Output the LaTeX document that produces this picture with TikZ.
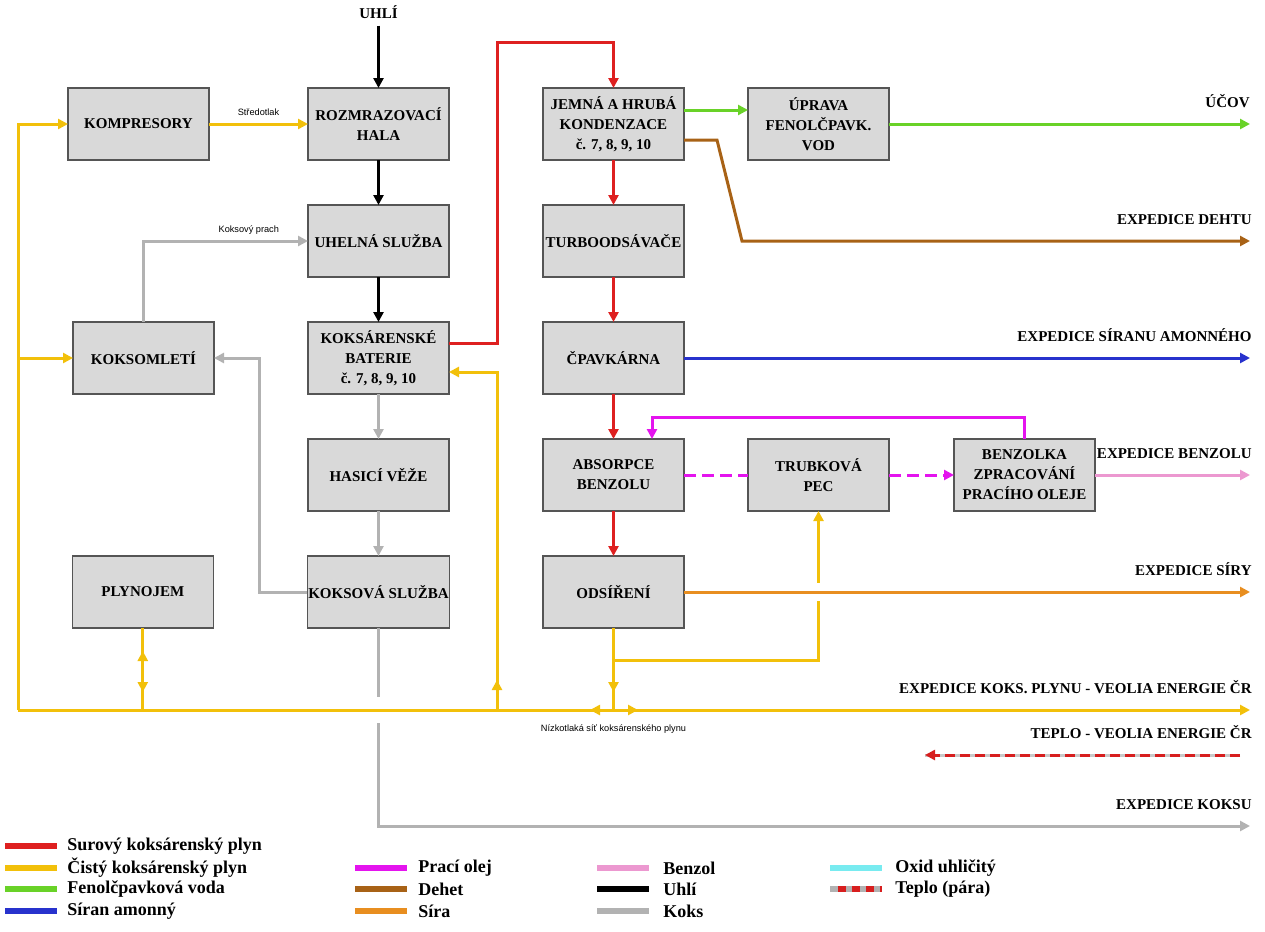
\documentclass[tikz,border=0pt]{standalone}
\usepackage{fontspec}
\setmainfont{Liberation Serif}
\newfontfamily\notefont{Liberation Sans}
\usetikzlibrary{arrows.meta, positioning, calc, decorations.markings}
\definecolor{boxgray}{RGB}{217,217,217}
\definecolor{boxline}{RGB}{85,85,85}
\definecolor{rawgas}{RGB}{222,32,32}
\definecolor{cleangas}{RGB}{242,192,10}
\definecolor{phenolwater}{RGB}{105,210,40}
\definecolor{sulfate}{RGB}{40,50,205}
\definecolor{washoil}{RGB}{228,20,238}
\definecolor{tar}{RGB}{168,98,22}
\definecolor{sulfur}{RGB}{232,142,32}
\definecolor{benzol}{RGB}{236,152,208}
\definecolor{coke}{RGB}{178,178,178}
\definecolor{carbondiox}{RGB}{120,235,240}
\definecolor{heat}{RGB}{215,30,30}

\begin{document}
\begin{tikzpicture}[
        x=0.5pt, y=-0.5pt,
        box/.style={rectangle, draw=boxline, fill=boxgray, line width=0.7pt, outer sep=0pt, minimum width=70.5pt, minimum height=36pt, inner sep=0.5pt, align=center, font=\fontsize{7.5}{10}\selectfont\bfseries},
        flow/.style={line width=1.5pt, -{Triangle[length=5pt,width=5pt]}},
        pipe/.style={line width=1.5pt},
        midtip/.style={postaction={decorate, decoration={markings, mark=at position #1 with {\arrow{Triangle[length=5pt,width=5pt]}}}}},
        midtipback/.style={postaction={decorate, decoration={markings, mark=at position #1 with {\arrowreversed{Triangle[length=5pt,width=5pt]}}}}},
        outlabel/.style={anchor=base east, font=\fontsize{7.5}{9}\selectfont\bfseries, inner sep=0pt},
        note/.style={font=\notefont\fontsize{4.6}{5.5}\selectfont, inner sep=1pt, text=black},
        legline/.style={line width=2.6pt},
        legtext/.style={anchor=west, font=\fontsize{9}{10}\selectfont\bfseries, inner sep=0pt}
    ]
        \useasboundingbox (0,0) rectangle (1265,932);

        % main column
        \node[box] (rozmraz) at (378.5,124) {ROZMRAZOVACÍ\\HALA};
        \node[box, below=22.5pt of rozmraz] (uhelna) {UHELNÁ SLUŽBA};
        \node[box, below=22.5pt of uhelna] (baterie) {KOKSÁRENSKÉ\\BATERIE\\č. 7, 8, 9, 10};
        \node[box, below=22.5pt of baterie] (hasici) {HASICÍ VĚŽE};
        \node[box, below=22.5pt of hasici] (koksova) {KOKSOVÁ SLUŽBA};
        \node[font=\fontsize{7.5}{9}\selectfont\bfseries] (uhli) at (378.5,12) {UHLÍ};

        % left column
        \node[box, left=49.5pt of rozmraz] (kompresory) {KOMPRESORY};
        \node[box, left=47pt of baterie] (koksomleti) {KOKSOMLETÍ};
        \node[box, left=47pt of koksova] (plynojem) {PLYNOJEM};

        % gas treatment
        \node[box, right=47pt of rozmraz] (kondenzace) {JEMNÁ A HRUBÁ\\KONDENZACE\\č. 7, 8, 9, 10};
        \node[box, below=22.5pt of kondenzace] (turbo) {TURBOODSÁVAČE};
        \node[box, below=22.5pt of turbo] (cpavkarna) {ČPAVKÁRNA};
        \node[box, below=22.5pt of cpavkarna] (absorpce) {ABSORPCE\\BENZOLU};
        \node[box, below=22.5pt of absorpce] (odsireni) {ODSÍŘENÍ};
        \node[box, right=32pt of kondenzace] (uprava) {ÚPRAVA\\FENOLČPAVK.\\VOD};
        \node[box, right=32pt of absorpce] (pec) {TRUBKOVÁ\\PEC};
        \node[box, right=32.5pt of pec] (benzolka) {BENZOLKA\\ZPRACOVÁNÍ\\PRACÍHO OLEJE};

        % outlets
        \coordinate (ucov) at (uprava.east -| 1250,0);
        \coordinate (dehetexp) at (turbo.east -| 1250,0);
        \coordinate (siranexp) at (cpavkarna.east -| 1250,0);
        \coordinate (benzolexp) at (benzolka.east -| 1250,0);
        \coordinate (siraexp) at (odsireni.east -| 1250,0);
        \coordinate (busW) at (18,710);
        \coordinate (busE) at (1250,710);
        \coordinate (koksuexp) at (1250,826);
        \coordinate (teploS) at (1240,755);
        \coordinate (teploE) at (925,755);
        \coordinate (junction) at (odsireni.south |- busW);
        \coordinate (gasbranch) at (odsireni.south |- 0,660);

        % coal
        \draw[flow, black] (uhli) -- (rozmraz);
        \draw[flow, black] (rozmraz) -- (uhelna);
        \draw[flow, black] (uhelna) -- (baterie);

        % raw gas
        \draw[flow, rawgas] ([yshift=7.5pt]baterie.east) -| (497,42) -| (kondenzace.north);
        \draw[flow, rawgas] (kondenzace) -- (turbo);
        \draw[flow, rawgas] (turbo) -- (cpavkarna);
        \draw[flow, rawgas] (cpavkarna) -- (absorpce);
        \draw[flow, rawgas] (absorpce) -- (odsireni);

        % products
        \draw[flow, phenolwater] ([yshift=7pt]kondenzace.east) -- ([yshift=7pt]uprava.west);
        \draw[flow, phenolwater] (uprava.east) -- (ucov);
        \draw[flow, tar] ([yshift=-8pt]kondenzace.east) -- ++(33,0) -- ($(turbo.east)+(58,0)$) -- (dehetexp);
        \draw[flow, sulfate] (cpavkarna.east) -- (siranexp);
        \draw[flow, washoil] (benzolka.north) -- ++(0,-22) -| ([xshift=19.25pt]absorpce.north);
        \draw[pipe, washoil, dash pattern=on 6pt off 3pt] (absorpce) -- (pec);
        \draw[flow, washoil, dash pattern=on 6pt off 3pt] (pec) -- (benzolka);
        \draw[flow, benzol] (benzolka.east) -- (benzolexp);

        % clean gas
        \draw[flow, cleangas] (gasbranch) -| (pec.south);
        \fill[white] (811,583) rectangle (826,601);
        \draw[flow, sulfur] (odsireni.east) -- (siraexp);
        \draw[pipe, cleangas, midtip=32pt] (odsireni.south) -- (junction);
        \draw[flow, cleangas] (kompresory) -- node[note, above=2.5pt] {Středotlak} (rozmraz);
        \draw[flow, cleangas] (busW) |- (kompresory.west);
        \draw[flow, cleangas] (busW |- koksomleti.west) -- (koksomleti.west);
        \draw[pipe, cleangas, midtipback=11.5pt, midtip=32pt] (plynojem.south) -- (plynojem.south |- busW);
        \draw[flow, cleangas, midtip=15pt] (497,710) |- ([yshift=-7pt]baterie.east);

        % coke
        \draw[flow, coke] (baterie) -- (hasici);
        \draw[flow, coke] (hasici) -- (koksova);
        \draw[flow, coke] (koksomleti.north) |- node[note, above=1.5pt, pos=0.82] {Koksový prach} (uhelna.west);
        \draw[flow, coke] (koksova.west) -- ++(-48,0) |- (koksomleti.east);
        \draw[flow, coke] (koksova.south) |- (koksuexp);
        \fill[white] (371,697) rectangle (386,723);

        % low pressure network
        \draw[flow, cleangas, midtipback=286pt, midtip=310pt] (busW) -- (busE);
        \node[note, below=6pt] (sitlabel) at (junction) {Nízkotlaká síť koksárenského plynu};

        % heat
        \draw[pipe, coke!70] (teploS) -- (teploE);
        \draw[flow, heat, dash pattern=on 5pt off 2.5pt] (teploS) -- (teploE);

        % outlet labels
        \node[outlabel] (ucovlabel) at ([yshift=8.5pt]ucov) {ÚČOV};
        \node[outlabel] (dehetlabel) at ([yshift=8.5pt,xshift=1pt]dehetexp) {EXPEDICE DEHTU};
        \node[outlabel] (siranlabel) at ([yshift=8.5pt,xshift=1pt]siranexp) {EXPEDICE SÍRANU AMONNÉHO};
        \node[outlabel] (benzollabel) at ([yshift=8.5pt,xshift=1pt]benzolexp) {EXPEDICE BENZOLU};
        \node[outlabel] (siralabel) at ([yshift=8.5pt,xshift=1pt]siraexp) {EXPEDICE SÍRY};
        \node[outlabel] (plynlabel) at ([yshift=8.5pt,xshift=1pt]busE) {EXPEDICE KOKS. PLYNU - VEOLIA ENERGIE ČR};
        \node[outlabel] (teplolabel) at ([yshift=8.5pt,xshift=6pt]teploS) {TEPLO - VEOLIA ENERGIE ČR};
        \node[outlabel] (koksulabel) at ([yshift=8.5pt,xshift=1pt]koksuexp) {EXPEDICE KOKSU};

        % legend
        \draw[legline, rawgas] (5,846) -- (57,846);
        \node[legtext] (legraw) at (67,846) {Surový koksárenský plyn};
        \draw[legline, cleangas] (5,868) -- (57,868);
        \node[legtext] (legclean) at (67,868) {Čistý koksárenský plyn};
        \draw[legline, phenolwater] (5,889) -- (57,889);
        \node[legtext] (legphenol) at (67,889) {Fenolčpavková voda};
        \draw[legline, sulfate] (5,911) -- (57,911);
        \node[legtext] (legsulfate) at (67,911) {Síran amonný};

        \draw[legline, washoil] (355,868) -- (407,868);
        \node[legtext] (legoil) at (418,868) {Prací olej};
        \draw[legline, tar] (355,889) -- (407,889);
        \node[legtext] (legtar) at (418,889) {Dehet};
        \draw[legline, sulfur] (355,911) -- (407,911);
        \node[legtext] (legsulfur) at (418,911) {Síra};

        \draw[legline, benzol] (597,868) -- (649,868);
        \node[legtext] (legbenzol) at (663,868) {Benzol};
        \draw[legline, black] (597,889) -- (649,889);
        \node[legtext] (legcoal) at (663,889) {Uhlí};
        \draw[legline, coke] (597,911) -- (649,911);
        \node[legtext] (legcoke) at (663,911) {Koks};

        \draw[legline, carbondiox] (830,868) -- (882,868);
        \node[legtext] (legco) at (895,868) {Oxid uhličitý};
        \draw[legline, coke] (830,889) -- (882,889);
        \draw[legline, heat, dash pattern=on 4pt off 3pt] (838,889) -- (882,889);
        \node[legtext] (legheat) at (895,889) {Teplo (pára)};
    \end{tikzpicture}
\end{document}
